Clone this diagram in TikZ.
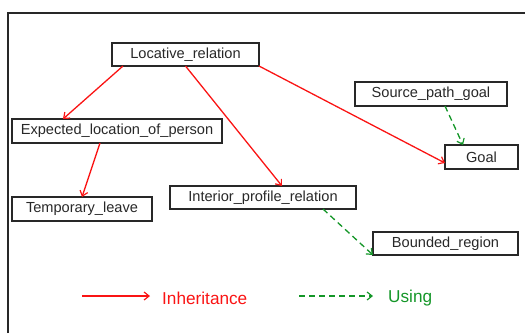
\documentclass[tikz,border=0pt]{standalone}
\usepackage{fontspec}
\setmainfont{Liberation Sans}
\usetikzlibrary{arrows.meta}
\definecolor{inhred}{RGB}{250,20,20}
\definecolor{usegreen}{RGB}{20,150,40}
\definecolor{boxline}{RGB}{40,40,40}
\tikzset{
  frame/.style={draw=boxline,line width=1.5pt,inner sep=0pt,outer sep=0pt,
    font=\fontsize{14.6}{17}\selectfont,text=boxline},
  inh/.style={draw=inhred,line width=1.3pt,-{Straight Barb[length=5pt,width=8pt,line width=1.2pt]}},
  use/.style={draw=usegreen,line width=1.3pt,dash pattern=on 6pt off 4pt,-{Straight Barb[length=5pt,width=8pt,line width=1.2pt]}},
  legtext/.style={font=\fontsize{17.2}{20}\selectfont,anchor=west,inner sep=0pt}
}
\begin{document}
\begin{tikzpicture}[x=1pt,y=-1pt]
\useasboundingbox (0,0) rectangle (525,333);
\draw[boxline,line width=1.5pt] (8,333) -- (8,13) -- (525,13);
\node[frame,minimum width=147pt,minimum height=23pt] (loc) at (185.5,54.5) {Locative\_relation};
\node[frame,minimum width=210pt,minimum height=24pt] (exp) at (117,131) {Expected\_location\_of\_person};
\node[frame,minimum width=140pt,minimum height=24pt] (tmp) at (82,209) {Temporary\_leave};
\node[frame,minimum width=186pt,minimum height=23pt] (int) at (263,197.5) {Interior\_profile\_relation};
\node[frame,minimum width=145pt,minimum height=23pt] (bnd) at (445.5,243.5) {Bounded\_region};
\node[frame,minimum width=152pt,minimum height=24pt] (src) at (431,94) {Source\_path\_goal};
\node[frame,minimum width=73pt,minimum height=24pt] (goal) at (481.5,157) {Goal};
\draw[inh] ([xshift=11pt]loc.south west) -- ([xshift=51pt]exp.north west);
\draw[inh] ([xshift=88pt]exp.south west) -- (tmp.north);
\draw[inh] (loc.south) -- ([xshift=19pt]int.north);
\draw[inh] (loc.south east) -- ([yshift=-6pt]goal.west);
\draw[use] ([xshift=14pt]src.south) -- ([xshift=18pt]goal.north west);
\draw[use] ([xshift=60pt]int.south) -- (bnd.south west);
\coordinate (l1a) at (82,296);
\coordinate (l1b) at (150,296);
\coordinate (l2a) at (299,296);
\coordinate (l2b) at (373,296);
\draw[inh] (l1a) -- (l1b);
\draw[use] (l2a) -- (l2b);
\node[legtext,text=inhred] (lt1) at (162,298) {Inheritance};
\node[legtext,text=usegreen] (lt2) at (388,298) {Using};
\end{tikzpicture}
\end{document}
